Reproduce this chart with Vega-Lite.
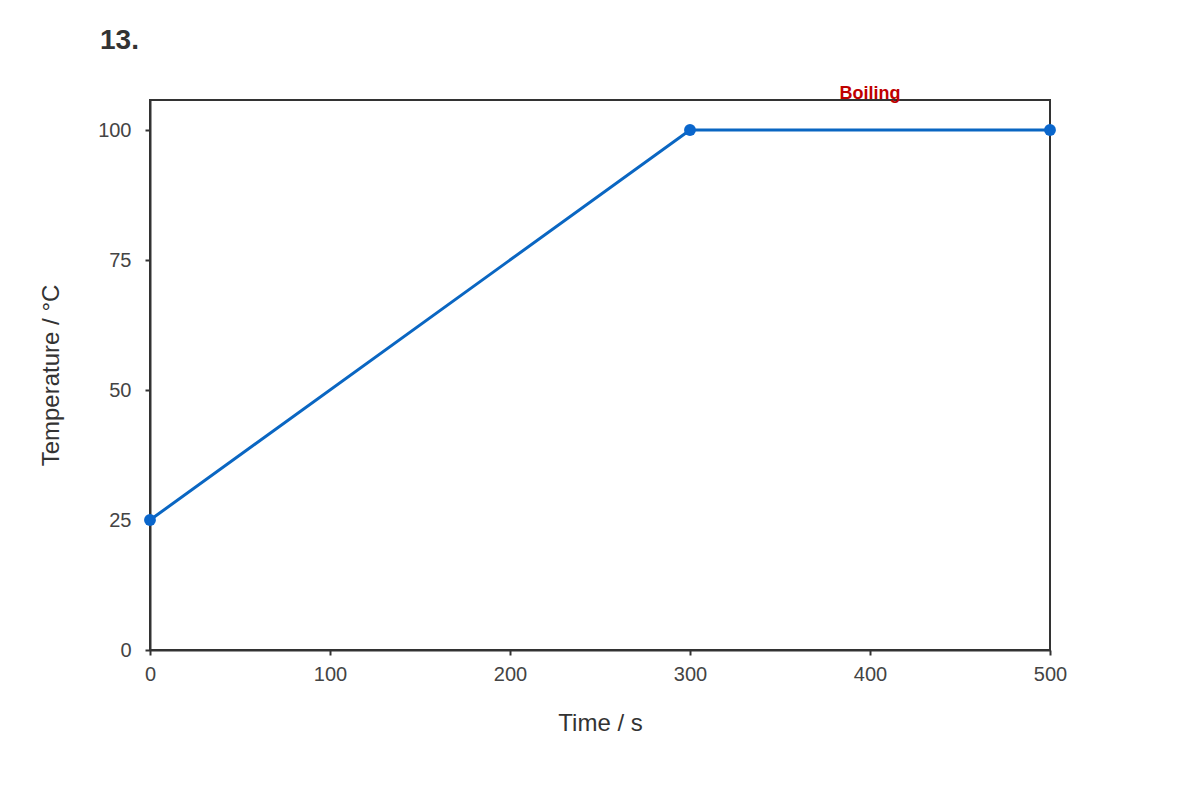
{
  "$schema": "https://vega.github.io/schema/vega-lite/v6.json",
  "width": 900,
  "height": 550,
  "autosize": {"type": "none"},
  "padding": {"left": 150, "top": 100, "right": 150, "bottom": 150},
  "background": "white",
  "config": {
    "font": "Liberation Sans",
    "view": {"stroke": "#333333", "strokeWidth": 2},
    "axis": {"grid": false, "domainColor": "#333333", "domainWidth": 2, "tickColor": "#333333", "tickWidth": 2, "tickSize": 5, "labelFontSize": 20, "labelColor": "#444444", "labelFlush": false, "titleFontSize": 24, "titleColor": "#333333", "titleFontWeight": "normal"}
  },
  "title": {"text": "13.", "anchor": "start", "frame": "group", "dx": -50, "fontSize": 28, "fontWeight": "bold", "color": "#333333", "offset": 30},
  "data": {"values": [
    {"time": 0, "temp": 25},
    {"time": 300, "temp": 100},
    {"time": 500, "temp": 100}
  ]},
  "layer": [
    {
      "mark": {"type": "line", "color": "#0a66c2", "strokeWidth": 3},
      "encoding": {
        "x": {"field": "time", "type": "quantitative", "scale": {"domain": [0, 500], "nice": false}, "axis": {"values": [0, 100, 200, 300, 400, 500], "title": "Time / s", "labelPadding": 9, "titlePadding": 27}},
        "y": {"field": "temp", "type": "quantitative", "scale": {"domain": [0, 105.77], "nice": false}, "axis": {"values": [0, 25, 50, 75, 100], "title": "Temperature / °C", "labelPadding": 14, "titlePadding": 34}}
      }
    },
    {
      "mark": {"type": "point", "filled": true, "opacity": 1, "size": 140, "color": "#0a66cc"},
      "encoding": {
        "x": {"field": "time", "type": "quantitative"},
        "y": {"field": "temp", "type": "quantitative"}
      }
    },
    {
      "data": {"values": [{"time": 400, "temp": 106.9, "label": "Boiling"}]},
      "mark": {"type": "text", "color": "#c00000", "fontWeight": "bold", "fontSize": 18, "clip": false},
      "encoding": {
        "x": {"field": "time", "type": "quantitative"},
        "y": {"field": "temp", "type": "quantitative"},
        "text": {"field": "label"}
      }
    }
  ]
}
